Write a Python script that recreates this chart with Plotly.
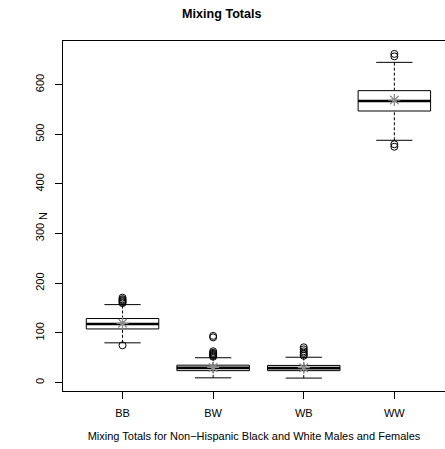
import plotly.graph_objects as go

# Mixing totals per pairing group: five-number summaries, means and outliers
groups = ["BB", "BW", "WB", "WW"]
lower_whisker = [80, 9.5, 9, 488]
q1 = [108, 24, 24, 547]
median = [118, 29.5, 29, 567]
q3 = [129, 35, 34.5, 588]
upper_whisker = [157, 50, 51, 645]
means = [119.5, 30.5, 30, 569]
outliers = {
    "BB": [75, 160, 162, 164, 166, 168, 171],
    "BW": [52, 54, 56, 58, 60, 63, 91, 94],
    "WB": [54, 57, 60, 63, 67, 71],
    "WW": [475, 480, 657, 662],
}

y_ticks = [0, 100, 200, 300, 400, 500, 600]

BOX_HALF = 0.4     # box spans 0.8 of the slot
STAPLE_HALF = 0.2  # whisker caps span half the box
FONT = "Liberation Sans, Arial, Helvetica, sans-serif"
L, R, T, B = 63, 0, 41, 58
W, H = 445, 449

fig = go.Figure()
positions = list(range(1, len(groups) + 1))

for i, g in enumerate(groups):
    x = positions[i]
    # dashed whiskers
    for a, b in ((lower_whisker[i], q1[i]), (q3[i], upper_whisker[i])):
        fig.add_trace(go.Scatter(
            x=[x, x], y=[a, b], mode="lines",
            line=dict(color="black", width=1, dash="3px,2px"),
            hoverinfo="skip", showlegend=False))
    # staples
    for v in (lower_whisker[i], upper_whisker[i]):
        fig.add_trace(go.Scatter(
            x=[x - STAPLE_HALF, x + STAPLE_HALF], y=[v, v], mode="lines",
            line=dict(color="black", width=1),
            hoverinfo="skip", showlegend=False))
    # box
    fig.add_trace(go.Scatter(
        x=[x - BOX_HALF, x + BOX_HALF, x + BOX_HALF, x - BOX_HALF, x - BOX_HALF],
        y=[q1[i], q1[i], q3[i], q3[i], q1[i]],
        mode="lines", fill="toself", fillcolor="white",
        line=dict(color="black", width=1),
        hoverinfo="skip", showlegend=False))
    # median
    fig.add_trace(go.Scatter(
        x=[x - BOX_HALF, x + BOX_HALF], y=[median[i], median[i]], mode="lines",
        line=dict(color="black", width=2.6),
        hoverinfo="skip", showlegend=False))
    # outliers
    pts = outliers[g]
    fig.add_trace(go.Scatter(
        x=[x] * len(pts), y=pts, mode="markers",
        marker=dict(symbol="circle-open", size=7, color="black",
                    line=dict(width=1, color="black")),
        showlegend=False))

# means
fig.add_trace(go.Scatter(
    x=positions, y=means, mode="markers",
    marker=dict(symbol="asterisk-open", size=10, color="#8c8c8c",
                line=dict(width=1.3, color="#8c8c8c")),
    showlegend=False))

plot_w = W - L - R
fig.update_layout(
    width=W, height=H,
    margin=dict(l=L, r=R, t=T, b=B),
    paper_bgcolor="white", plot_bgcolor="white",
    font=dict(family=FONT, size=11, color="black"),
    xaxis=dict(
        range=[0.343, 4.559], tickmode="array", tickvals=positions, ticktext=groups,
        showgrid=False, zeroline=False,
        showline=True, linecolor="black", linewidth=1, mirror=True,
        ticks="outside", ticklen=7, tickwidth=1, tickcolor="black",
        ticklabelstandoff=5,
        title=dict(text="Mixing Totals for Non\u2212Hispanic Black and White Males and Females",
                   standoff=14, font=dict(size=11)),
    ),
    yaxis=dict(
        range=[-17, 688], tickmode="array", tickvals=y_ticks,
        showgrid=False, zeroline=False,
        showline=True, linecolor="black", linewidth=1, mirror=False,
        ticks="outside", ticklen=7, tickwidth=1, tickcolor="black",
        tickangle=-90, ticklabelstandoff=7,
    ),
    annotations=[
        dict(text="<b>Mixing Totals</b>", xref="paper", yref="paper",
             x=(222 - L) / plot_w, y=1, yshift=27, xanchor="center", yanchor="middle",
             showarrow=False, font=dict(size=12.6, family=FONT)),
        dict(text="N", xref="paper", yref="paper", textangle=-90,
             x=(43 - L) / plot_w, y=0.5,
             xanchor="center", yanchor="middle", showarrow=False,
             font=dict(size=11, family=FONT)),
    ],
)

fig.write_html("out.html")
